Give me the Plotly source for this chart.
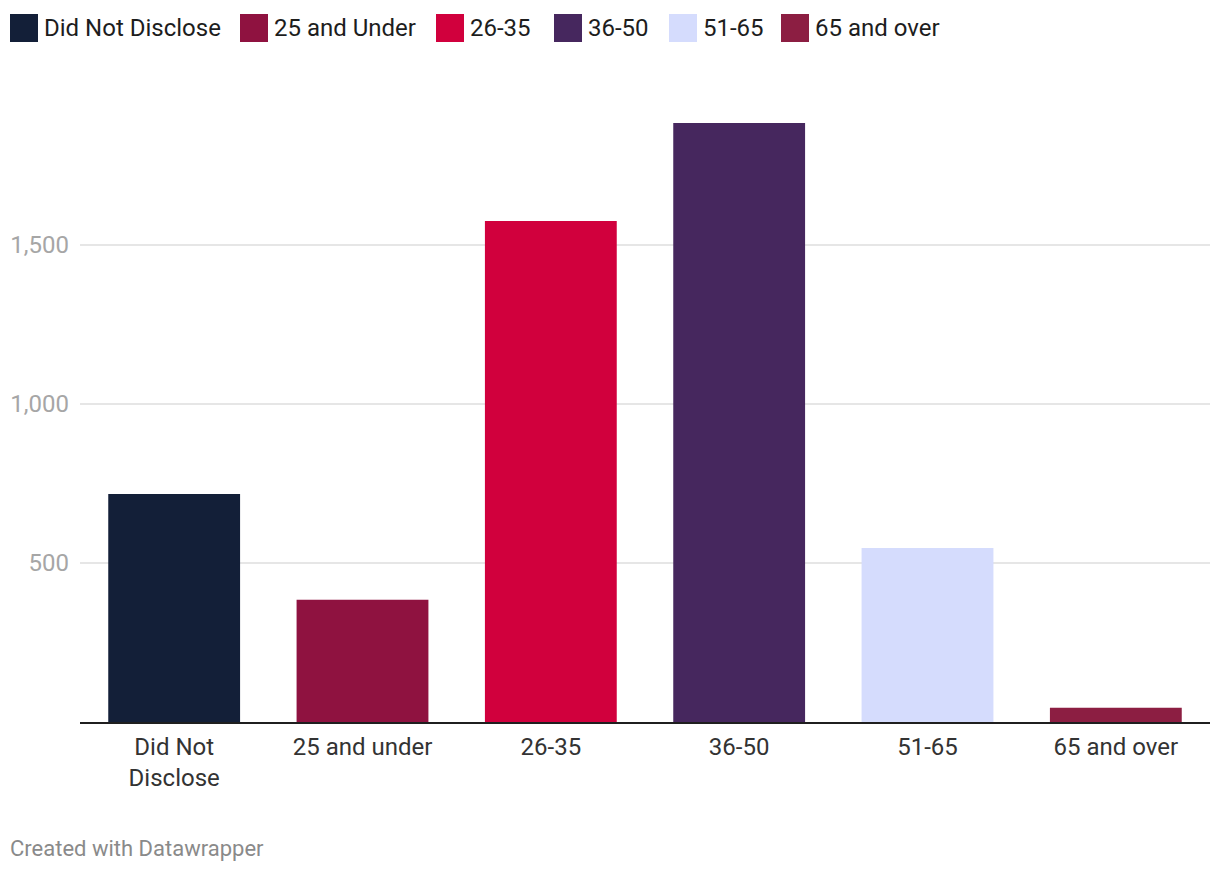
import plotly.graph_objects as go

categories = ["Did Not<br>Disclose", "25 and under", "26-35", "36-50", "51-65", "65 and over"]
legend_names = ["Did Not Disclose", "25 and Under", "26-35", "36-50", "51-65", "65 and over"]
values = [717, 384, 1575, 1883, 547, 45]
colors = ["#131f38", "#8f1240", "#d1003d", "#46275e", "#d5dcfd", "#8c1e42"]
y_ticks = [500, 1000, 1500]
y_tick_labels = ["500", "1,000", "1,500"]

OFF = 8  # page offset of the figure inside the window
W, H = 1220, 872
ML, MR, MT, MB = 80 - OFF, 18, 123 - OFF, 158
PW, PH = W - ML - MR, H - MT - MB

def px(x):
    return (x - OFF - ML) / PW

def py(y):
    return (H - MB - (y - OFF)) / PH

fig = go.Figure()
for cat, name, val, col in zip(categories, legend_names, values, colors):
    fig.add_trace(go.Bar(x=[cat], y=[val], name=name, marker=dict(color=col, line=dict(width=0)),
                         showlegend=False, hoverinfo="x+y"))

# manual legend (square swatches + labels)
legend_sq_x = [10, 240, 436, 554, 669, 781]
shapes = []
annotations = []
for x0, name, col in zip(legend_sq_x, legend_names, colors):
    shapes.append(dict(type="rect", xref="paper", yref="paper",
                       x0=px(x0), x1=px(x0 + 28), y0=py(42), y1=py(14),
                       fillcolor=col, line=dict(width=0)))
    annotations.append(dict(text=name, xref="paper", yref="paper", x=px(x0 + 32), y=py(28),
                            xanchor="left", yanchor="middle", showarrow=False,
                            font=dict(family="Roboto", size=24, color="#1d1d1d")))

annotations.append(dict(text="Created with Datawrapper", xref="paper", yref="paper",
                        x=px(8), y=py(848), xanchor="left", yanchor="middle", showarrow=False,
                        font=dict(family="Roboto", size=22, color="#8a8a8a")))

fig.update_layout(
    width=W, height=H,
    margin=dict(l=ML, r=MR, t=MT, b=MB, autoexpand=False),
    paper_bgcolor="white", plot_bgcolor="white",
    barmode="relative", bargap=0.3,
    font=dict(family="Roboto", color="#333333"),
    shapes=shapes, annotations=annotations,
    xaxis=dict(showgrid=False, showline=True, linecolor="#1f1f1f", linewidth=2,
               ticks="", ticklabelstandoff=2,
               tickfont=dict(family="Roboto", size=24, color="#333333"),
               automargin=False, fixedrange=True),
    yaxis=dict(range=[0, 1883], tickvals=y_ticks, ticktext=y_tick_labels,
               showgrid=True, gridcolor="#e6e6e6", gridwidth=1.5, zeroline=False,
               showline=False, ticks="", ticklabelstandoff=10, automargin=False,
               tickfont=dict(family="Roboto", size=24, color="#a6a6a6"), fixedrange=True),
    hovermode="closest",
)

fig.write_html("out.html")
